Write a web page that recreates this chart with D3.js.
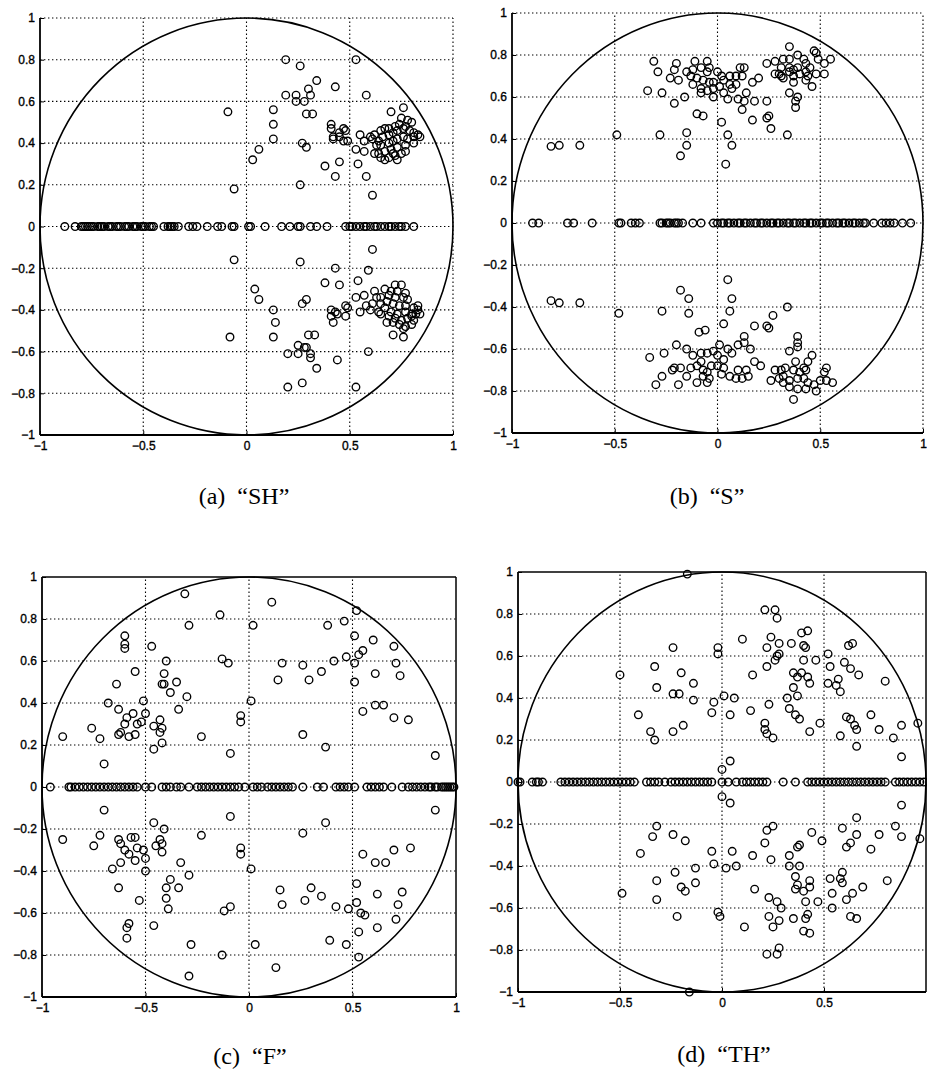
<!DOCTYPE html>
<html>
<head>
<meta charset="utf-8">
<script src="https://cdn.jsdelivr.net/npm/d3@7/dist/d3.min.js"></script>
<style>
  html, body { margin: 0; padding: 0; background: #fff; }
  svg { display: block; }
  .tick text { font-family: "Liberation Sans", Arial, sans-serif; font-size: 12px; fill: #000; stroke: #000; stroke-width: 0.35px; }
  .caption { font-family: "Liberation Serif", "DejaVu Serif", serif; font-size: 24px; fill: #000; white-space: pre; }
</style>
</head>
<body>
<div id="chart"></div>
<script>
// tick values
const xTicks = [-1, -0.5, 0, 0.5, 1];
const xTicksD = [-1, -0.5, 0, 0.5];
const yTicks = [-1, -0.8, -0.6, -0.4, -0.2, 0, 0.2, 0.4, 0.6, 0.8, 1];
const xGrid = [-0.5, 0, 0.5];
const yGrid = [-0.8, -0.6, -0.4, -0.2, 0, 0.2, 0.4, 0.6, 0.8];
const captions = ["(a)  \u201cSH\u201d", "(b)  \u201cS\u201d", "(c)  \u201cF\u201d", "(d)  \u201cTH\u201d"];

// (a) "SH" : real roots, upper and lower half plane roots
const shReal = [-0.88,-0.83,-0.80,-0.79,-0.78,-0.77,-0.76,-0.75,-0.74,-0.72,-0.71,-0.70,-0.69,-0.67,-0.66,-0.65,-0.63,-0.62,-0.61,-0.59,-0.58,-0.57,-0.55,-0.54,-0.53,-0.51,-0.50,-0.49,-0.47,-0.46,-0.45,-0.40,-0.38,-0.37,-0.36,-0.35,-0.33,-0.28,-0.26,-0.24,-0.19,-0.14,-0.12,-0.07,-0.06,0.01,0.02,0.09,0.17,0.21,0.25,0.26,0.31,0.34,0.39,0.48,0.50,0.51,0.53,0.55,0.57,0.58,0.60,0.62,0.63,0.65,0.67,0.69,0.70,0.72,0.74,0.75,0.77,0.81];
const shUpper = [[0.19,0.80],[0.26,0.77],[0.53,0.80],[0.34,0.70],[0.43,0.67],[0.19,0.63],[0.24,0.63],[0.30,0.66],[0.31,0.63],[0.24,0.60],[0.28,0.60],[0.58,0.63],[-0.09,0.55],[0.13,0.56],[0.29,0.54],[0.32,0.54],[0.13,0.49],[0.13,0.42],[0.27,0.40],[0.29,0.38],[0.06,0.37],[0.03,0.32],[0.41,0.49],[0.41,0.47],[0.42,0.43],[0.42,0.42],[0.45,0.45],[0.47,0.47],[0.48,0.46],[0.45,0.43],[0.49,0.41],[0.47,0.41],[0.55,0.44],[0.53,0.37],[0.57,0.36],[0.57,0.41],[0.60,0.43],[0.38,0.29],[0.45,0.31],[0.54,0.30],[0.43,0.24],[0.58,0.24],[0.61,0.15],[0.26,0.20],[-0.06,0.18],[0.62,0.35],
  [0.70,0.55],[0.76,0.57],[0.75,0.52],[0.78,0.51],[0.80,0.50],[0.77,0.48],[0.74,0.49],[0.72,0.48],[0.69,0.47],[0.67,0.47],[0.65,0.46],[0.62,0.44],[0.61,0.42],[0.64,0.41],[0.66,0.43],[0.69,0.44],[0.71,0.45],[0.73,0.46],[0.76,0.47],[0.79,0.46],[0.81,0.45],[0.83,0.44],[0.84,0.43],[0.81,0.43],[0.78,0.42],[0.76,0.43],[0.73,0.42],[0.71,0.41],[0.69,0.40],[0.65,0.39],[0.63,0.39],[0.64,0.35],[0.67,0.36],[0.70,0.37],[0.73,0.38],[0.77,0.39],[0.77,0.36],[0.75,0.35],[0.72,0.34],[0.69,0.33],[0.67,0.32],[0.65,0.33],[0.73,0.32],[0.71,0.35],[0.81,0.40]];
const shLower = [[-0.06,-0.16],[0.26,-0.17],[0.61,-0.11],[0.43,-0.20],[0.59,-0.21],[0.38,-0.27],[0.45,-0.28],[0.54,-0.26],[0.04,-0.30],[0.06,-0.35],[0.29,-0.35],[0.27,-0.37],[0.13,-0.40],[0.41,-0.40],[0.43,-0.41],[0.44,-0.42],[0.41,-0.43],[0.42,-0.46],[0.48,-0.38],[0.49,-0.39],[0.48,-0.43],[0.53,-0.34],[0.57,-0.33],[0.55,-0.41],[0.58,-0.38],[0.60,-0.40],[0.14,-0.46],[0.13,-0.53],[-0.08,-0.53],[0.30,-0.52],[0.33,-0.52],[0.25,-0.57],[0.28,-0.58],[0.29,-0.58],[0.20,-0.61],[0.25,-0.61],[0.31,-0.61],[0.31,-0.63],[0.34,-0.68],[0.44,-0.64],[0.59,-0.60],[0.20,-0.77],[0.27,-0.75],[0.53,-0.77],[0.71,-0.52],[0.76,-0.53],
  [0.72,-0.28],[0.75,-0.28],[0.67,-0.30],[0.62,-0.31],[0.70,-0.31],[0.73,-0.31],[0.77,-0.32],[0.63,-0.34],[0.65,-0.34],[0.69,-0.33],[0.72,-0.34],[0.76,-0.34],[0.78,-0.35],[0.61,-0.37],[0.65,-0.37],[0.68,-0.36],[0.71,-0.37],[0.74,-0.38],[0.77,-0.38],[0.81,-0.39],[0.83,-0.40],[0.84,-0.42],[0.64,-0.41],[0.67,-0.39],[0.70,-0.41],[0.73,-0.42],[0.77,-0.41],[0.80,-0.42],[0.82,-0.42],[0.65,-0.42],[0.69,-0.43],[0.72,-0.44],[0.75,-0.45],[0.78,-0.44],[0.81,-0.45],[0.68,-0.46],[0.71,-0.46],[0.74,-0.47],[0.77,-0.48],[0.80,-0.47],[0.76,-0.49],[0.80,-0.43],[0.83,-0.38]];

// (b) "S"
const sReal = [-0.90,-0.87,-0.73,-0.70,-0.61,-0.48,-0.47,-0.42,-0.40,-0.38,-0.28,-0.27,-0.25,-0.24,-0.23,-0.21,-0.20,-0.19,-0.17,-0.12,-0.08,-0.02,0.00,0.02,0.03,0.05,0.06,0.08,0.10,0.11,0.13,0.14,0.16,0.18,0.19,0.21,0.22,0.24,0.26,0.27,0.29,0.30,0.32,0.34,0.35,0.37,0.38,0.40,0.42,0.43,0.45,0.46,0.48,0.50,0.51,0.53,0.54,0.56,0.58,0.59,0.61,0.62,0.64,0.66,0.67,0.69,0.71,0.72,0.76,0.80,0.82,0.84,0.86,0.90,0.94];
const sUpper = [[-0.81,0.365],[-0.77,0.37],[-0.67,0.37],[-0.49,0.42],[-0.28,0.42],[-0.15,0.43],[-0.15,0.37],[-0.18,0.32],[-0.10,0.52],[-0.07,0.51],[0.02,0.48],[0.05,0.42],[0.07,0.37],[0.04,0.28],[0.17,0.49],[0.24,0.50],[0.25,0.51],[0.26,0.45],[0.34,0.42],[-0.34,0.63],[-0.27,0.62],[-0.31,0.77],[-0.29,0.72],[-0.23,0.69],[-0.20,0.76],[-0.21,0.73],[-0.19,0.68],[-0.16,0.60],[-0.21,0.57],
  [-0.11,0.77],[-0.05,0.77],[-0.12,0.73],[-0.08,0.74],[-0.04,0.74],[-0.15,0.72],[-0.13,0.70],[-0.10,0.69],[-0.07,0.68],[-0.04,0.67],[-0.12,0.66],[-0.08,0.64],[-0.05,0.63],[-0.02,0.64],[0.01,0.65],[0.00,0.72],[0.03,0.68],[0.06,0.66],[0.09,0.66],[0.03,0.62],[0.05,0.59],[-0.02,0.60],[0.02,0.70],[-0.02,0.67],[-0.05,0.72],[-0.08,0.62],[0.06,0.70],[0.07,0.64],[0.11,0.74],[0.12,0.70],[0.13,0.74],[0.10,0.59],[0.13,0.58],[0.12,0.54],[0.14,0.62],[0.17,0.67],[0.20,0.69],[0.18,0.58],[0.24,0.58],[0.09,0.70],
  [0.35,0.84],[0.47,0.82],[0.48,0.81],[0.24,0.76],[0.28,0.77],[0.32,0.78],[0.35,0.78],[0.39,0.80],[0.42,0.78],[0.43,0.76],[0.45,0.74],[0.39,0.74],[0.37,0.73],[0.35,0.74],[0.31,0.74],[0.28,0.71],[0.31,0.70],[0.35,0.72],[0.37,0.70],[0.40,0.71],[0.43,0.72],[0.44,0.70],[0.43,0.68],[0.46,0.65],[0.48,0.71],[0.52,0.71],[0.52,0.76],[0.55,0.78],[0.49,0.78],[0.37,0.67],[0.35,0.62],[0.39,0.60],[0.38,0.58],[0.38,0.55],[0.30,0.71],[0.32,0.69]];
const sLower = [[-0.81,-0.37],[-0.77,-0.38],[-0.67,-0.38],[-0.48,-0.43],[-0.27,-0.42],[-0.18,-0.32],[-0.14,-0.36],[-0.14,-0.43],[0.05,-0.27],[0.07,-0.36],[0.06,-0.42],[0.03,-0.48],[-0.09,-0.52],[-0.06,-0.51],[0.18,-0.49],[0.24,-0.49],[0.25,-0.50],[0.27,-0.44],[0.34,-0.40],[-0.33,-0.64],[-0.26,-0.62],[-0.30,-0.77],[-0.27,-0.73],[-0.22,-0.70],[-0.19,-0.77],[-0.20,-0.58],[-0.15,-0.60],
  [-0.12,-0.63],[-0.08,-0.62],[-0.05,-0.62],[-0.02,-0.61],[0.01,-0.58],[0.05,-0.60],[0.07,-0.62],[0.10,-0.58],[0.13,-0.57],[0.13,-0.54],[0.16,-0.60],[0.18,-0.66],[0.21,-0.68],[0.14,-0.70],[0.10,-0.70],[0.09,-0.74],[0.12,-0.74],[0.15,-0.73],[0.06,-0.73],[0.02,-0.72],[0.03,-0.69],[0.00,-0.68],[-0.03,-0.68],[-0.05,-0.71],[-0.04,-0.74],[-0.07,-0.70],[-0.10,-0.68],[-0.13,-0.69],[-0.15,-0.73],[-0.10,-0.76],[-0.05,-0.76],[-0.08,-0.66],[-0.07,-0.73],[-0.18,-0.69],[-0.21,-0.69],[0.00,-0.63],[0.03,-0.65],
  [0.39,-0.54],[0.39,-0.57],[0.39,-0.59],[0.35,-0.61],[0.38,-0.66],[0.46,-0.63],[0.44,-0.66],[0.42,-0.69],[0.43,-0.70],[0.40,-0.71],[0.37,-0.70],[0.33,-0.69],[0.31,-0.70],[0.28,-0.70],[0.26,-0.75],[0.30,-0.74],[0.32,-0.76],[0.35,-0.75],[0.39,-0.74],[0.42,-0.74],[0.44,-0.76],[0.47,-0.77],[0.50,-0.75],[0.48,-0.80],[0.52,-0.71],[0.53,-0.69],[0.53,-0.75],[0.56,-0.76],[0.37,-0.84],[0.39,-0.79],[0.43,-0.79],[0.32,-0.73],[0.35,-0.78]];

// (c) "F"
const fReal = [-0.96,-0.87,-0.86,-0.84,-0.82,-0.80,-0.78,-0.76,-0.74,-0.72,-0.70,-0.68,-0.66,-0.64,-0.62,-0.60,-0.58,-0.56,-0.54,-0.50,-0.47,-0.42,-0.40,-0.38,-0.35,-0.33,-0.29,-0.25,-0.23,-0.21,-0.19,-0.17,-0.15,-0.13,-0.11,-0.09,-0.07,-0.05,-0.02,0.02,0.04,0.06,0.09,0.11,0.13,0.15,0.17,0.19,0.21,0.26,0.33,0.36,0.42,0.44,0.46,0.48,0.51,0.57,0.59,0.61,0.63,0.65,0.69,0.74,0.77,0.79,0.81,0.83,0.85,0.87,0.88,0.90,0.91,0.93,0.94,0.95,0.96,0.97,0.98,0.99];
const fUpper = [[-0.31,0.92],[0.11,0.88],[-0.14,0.82],[-0.29,0.77],[0.02,0.77],[0.52,0.84],[0.46,0.79],[0.38,0.77],[-0.60,0.72],[-0.60,0.68],[-0.60,0.66],[-0.47,0.67],[-0.13,0.61],[-0.10,0.59],[0.51,0.72],[0.60,0.70],[0.70,0.67],[0.55,0.65],[0.53,0.63],[0.47,0.62],[0.41,0.60],[0.51,0.59],[0.71,0.59],[0.73,0.53],[0.61,0.54],[0.35,0.55],[0.26,0.58],[0.16,0.59],[0.14,0.51],[0.29,0.51],[0.51,0.50],[-0.55,0.55],[-0.40,0.60],[-0.64,0.49],[-0.41,0.54],[-0.42,0.49],[-0.41,0.49],[-0.35,0.50],[-0.38,0.45],[-0.30,0.43],[-0.51,0.41],[-0.68,0.40],[-0.34,0.37],[-0.63,0.37],[-0.56,0.35],[-0.59,0.33],[-0.50,0.35],[-0.52,0.31],[-0.60,0.30],[-0.54,0.30],[-0.62,0.26],[-0.63,0.25],[-0.58,0.24],[-0.55,0.25],[-0.46,0.29],[-0.43,0.32],[-0.42,0.28],[-0.43,0.26],[-0.42,0.21],[-0.46,0.18],[-0.76,0.28],[-0.72,0.23],[-0.70,0.11],[-0.90,0.24],[-0.23,0.24],[-0.09,0.16],[-0.04,0.34],[-0.04,0.31],[0.01,0.41],[0.55,0.36],[0.61,0.39],[0.65,0.39],[0.70,0.33],[0.77,0.32],[0.26,0.25],[0.37,0.19],[0.90,0.15]];
const fLower = [[-0.70,-0.11],[-0.09,-0.14],[0.90,-0.11],[0.37,-0.17],[-0.46,-0.17],[-0.41,-0.20],[0.26,-0.22],[-0.23,-0.23],[-0.90,-0.25],[-0.72,-0.23],[-0.75,-0.28],[-0.63,-0.25],[-0.62,-0.27],[-0.60,-0.30],[-0.58,-0.32],[-0.57,-0.24],[-0.55,-0.24],[-0.54,-0.29],[-0.55,-0.35],[-0.51,-0.30],[-0.50,-0.34],[-0.50,-0.40],[-0.45,-0.28],[-0.43,-0.25],[-0.42,-0.27],[-0.42,-0.31],[-0.62,-0.36],[-0.66,-0.39],[-0.63,-0.48],[-0.33,-0.36],[-0.29,-0.42],[-0.38,-0.44],[-0.40,-0.48],[-0.40,-0.53],[-0.34,-0.48],[-0.53,-0.54],[-0.39,-0.58],[-0.58,-0.65],[-0.59,-0.67],[-0.59,-0.72],[-0.46,-0.66],[-0.28,-0.75],[-0.29,-0.90],[-0.12,-0.59],[-0.09,-0.57],[-0.13,-0.80],[-0.04,-0.29],[-0.04,-0.32],[0.01,-0.39],[0.03,-0.75],[0.13,-0.86],[0.15,-0.49],[0.16,-0.56],[0.27,-0.54],[0.30,-0.48],[0.35,-0.52],[0.42,-0.57],[0.48,-0.58],[0.39,-0.73],[0.47,-0.75],[0.55,-0.32],[0.61,-0.36],[0.66,-0.36],[0.70,-0.30],[0.78,-0.29],[0.52,-0.46],[0.52,-0.55],[0.54,-0.60],[0.56,-0.61],[0.62,-0.51],[0.74,-0.50],[0.72,-0.56],[0.71,-0.63],[0.62,-0.67],[0.53,-0.69],[0.53,-0.81]];

// (d) "TH"
const thReal = [-1.00,-0.99,-0.93,-0.91,-0.90,-0.88,-0.79,-0.77,-0.75,-0.73,-0.71,-0.69,-0.67,-0.65,-0.63,-0.61,-0.59,-0.57,-0.55,-0.53,-0.51,-0.49,-0.47,-0.45,-0.43,-0.37,-0.35,-0.33,-0.31,-0.28,-0.25,-0.23,-0.21,-0.19,-0.17,-0.15,-0.13,-0.11,-0.09,-0.07,-0.05,0.00,0.03,0.07,0.10,0.12,0.14,0.16,0.18,0.20,0.22,0.30,0.36,0.42,0.44,0.46,0.48,0.50,0.52,0.54,0.56,0.58,0.60,0.62,0.64,0.66,0.68,0.70,0.72,0.74,0.76,0.78,0.80,0.85,0.87,0.89,0.91,0.93,0.95,0.97,0.99];
const thUpper = [[-0.17,0.99],[0.21,0.82],[0.26,0.82],[0.27,0.78],[0.10,0.68],[0.24,0.69],[0.22,0.64],[0.28,0.66],[0.28,0.61],[0.27,0.60],[0.26,0.58],[0.22,0.55],[0.34,0.66],[0.39,0.71],[0.42,0.72],[0.40,0.65],[0.41,0.64],[0.40,0.58],[0.46,0.58],[0.35,0.52],[0.37,0.50],[0.39,0.52],[0.42,0.50],[0.43,0.47],[0.35,0.45],[0.32,0.40],[0.37,0.41],[0.33,0.35],[0.36,0.32],[0.38,0.30],[0.43,0.24],[0.48,0.28],[0.52,0.61],[0.53,0.55],[0.52,0.47],[0.56,0.46],[0.57,0.49],[0.58,0.43],[0.60,0.57],[0.62,0.65],[0.64,0.66],[0.63,0.54],[0.67,0.51],[0.58,0.22],[0.61,0.31],[0.63,0.30],[0.65,0.27],[0.66,0.25],[0.66,0.17],[0.73,0.32],[0.77,0.25],[0.80,0.48],[0.84,0.21],[0.88,0.27],[0.88,0.12],[0.96,0.28],[0.15,0.51],[0.14,0.34],[0.21,0.28],[0.21,0.25],[0.22,0.23],[0.25,0.21],[0.23,0.37],[-0.02,0.64],[-0.02,0.61],[0.01,0.41],[0.06,0.40],[0.04,0.32],[-0.05,0.33],[-0.04,0.38],[0.04,0.10],[0.00,0.06],[-0.14,0.47],[-0.14,0.39],[-0.21,0.42],[-0.20,0.52],[-0.24,0.64],[-0.24,0.42],[-0.19,0.27],[-0.24,0.24],[-0.33,0.55],[-0.32,0.45],[-0.35,0.24],[-0.33,0.20],[-0.41,0.32],[-0.50,0.51]];
const thLower = [[0.00,-0.07],[0.04,-0.10],[0.88,-0.11],[0.66,-0.17],[-0.32,-0.21],[-0.34,-0.26],[0.25,-0.21],[0.22,-0.23],[0.21,-0.29],[-0.24,-0.25],[-0.18,-0.28],[-0.40,-0.34],[-0.05,-0.33],[-0.04,-0.39],[0.05,-0.33],[0.02,-0.41],[0.07,-0.40],[0.15,-0.35],[0.24,-0.37],[0.44,-0.24],[0.49,-0.28],[0.38,-0.30],[0.37,-0.31],[0.33,-0.35],[0.33,-0.40],[0.38,-0.40],[0.36,-0.45],[0.37,-0.49],[0.36,-0.51],[0.43,-0.47],[0.43,-0.50],[0.40,-0.52],[0.41,-0.57],[0.47,-0.57],[0.41,-0.65],[0.42,-0.63],[0.40,-0.71],[0.43,-0.72],[0.53,-0.46],[0.54,-0.53],[0.54,-0.60],[0.58,-0.46],[0.59,-0.43],[0.59,-0.48],[0.59,-0.22],[0.61,-0.31],[0.63,-0.29],[0.66,-0.25],[0.61,-0.56],[0.64,-0.53],[0.69,-0.50],[0.63,-0.64],[0.66,-0.65],[0.73,-0.32],[0.77,-0.25],[0.81,-0.47],[0.85,-0.21],[0.88,-0.26],[0.97,-0.27],[0.16,-0.51],[0.11,-0.69],[0.23,-0.55],[0.27,-0.57],[0.29,-0.60],[0.28,-0.66],[0.23,-0.64],[0.25,-0.69],[0.22,-0.82],[0.27,-0.82],[0.28,-0.79],[0.35,-0.65],[-0.02,-0.62],[-0.01,-0.64],[-0.13,-0.41],[-0.13,-0.48],[-0.20,-0.50],[-0.18,-0.52],[-0.23,-0.43],[-0.22,-0.64],[-0.32,-0.47],[-0.32,-0.56],[-0.49,-0.53],[-0.16,-1.00]];

const W = 927, H = 1073;
const svg = d3.select("#chart").append("svg")
  .attr("width", W).attr("height", H)
  .attr("viewBox", `0 0 ${W} ${H}`);

const fmt = v => {
  if (v === 0) return "0";
  const s = String(+Math.abs(v).toFixed(1));
  return (v < 0 ? "\u2212" : "") + s;
};

// one entry per panel: plot box in pixels, data, caption spot
const panels = [
  {real: shReal, upper: shUpper, lower: shLower, l: 40, r: 453, t: 18, b: 435, dottedBox: true, xt: xTicks, cap: captions[0], cx: 244, cy: 504},
  {real: sReal, upper: sUpper, lower: sLower, l: 512, r: 923, t: 13, b: 433, dottedBox: true, xt: xTicks, cap: captions[1], cx: 707, cy: 504},
  {real: fReal, upper: fUpper, lower: fLower, l: 42, r: 456, t: 577, b: 997, dottedBox: false, xt: xTicks, cap: captions[2], cx: 250, cy: 1064},
  {real: thReal, upper: thUpper, lower: thLower, l: 518, r: 926, t: 572, b: 992, dottedBox: false, xt: xTicksD, cap: captions[3], cx: 724, cy: 1062}
];

panels.forEach(p => {
  const x = d3.scaleLinear().domain([-1, 1]).range([p.l, p.r]);
  const y = d3.scaleLinear().domain([-1, 1]).range([p.b, p.t]);
  const g = svg.append("g");

  // dotted grid
  const grid = g.append("g")
    .attr("stroke", "#000").attr("stroke-width", 1.1)
    .attr("stroke-dasharray", "1.4,2.6");
  const vx = p.dottedBox ? xGrid.concat([1]) : xGrid;
  const hy = p.dottedBox ? yGrid.concat([1]) : yGrid;
  grid.selectAll(".gv").data(vx).join("line")
    .attr("x1", d => x(d)).attr("x2", d => x(d))
    .attr("y1", y(-1)).attr("y2", y(1));
  grid.selectAll(".gh").data(hy).join("line")
    .attr("x1", x(-1)).attr("x2", x(1))
    .attr("y1", d => y(d)).attr("y2", d => y(d));

  // axes (inward ticks like matlab)
  const xa = g.append("g").attr("transform", `translate(0,${y(-1)})`)
    .call(d3.axisBottom(x).tickValues(p.xt).tickFormat(fmt).tickSizeInner(-4).tickSizeOuter(0).tickPadding(6));
  const ya = g.append("g").attr("transform", `translate(${x(-1)},0)`)
    .call(d3.axisLeft(y).tickValues(yTicks).tickFormat(fmt).tickSizeInner(-4).tickSizeOuter(0).tickPadding(5));
  [xa, ya].forEach(a => {
    a.select(".domain").remove();
    a.selectAll(".tick line").attr("stroke", "#000").attr("stroke-width", 1);
  });

  // solid box edges
  const box = g.append("g").attr("stroke", "#000").attr("fill", "none");
  box.append("line").attr("x1", x(-1)).attr("x2", x(-1)).attr("y1", y(-1)).attr("y2", y(1)).attr("stroke-width", 1.8);
  box.append("line").attr("x1", x(-1)).attr("x2", x(1)).attr("y1", y(-1)).attr("y2", y(-1)).attr("stroke-width", 1.8);
  if (!p.dottedBox) {
    box.append("line").attr("x1", x(-1)).attr("x2", x(1)).attr("y1", y(1)).attr("y2", y(1)).attr("stroke-width", 1.5);
    box.append("line").attr("x1", x(1)).attr("x2", x(1)).attr("y1", y(-1)).attr("y2", y(1)).attr("stroke-width", 1.5);
  }

  // unit circle
  g.append("ellipse")
    .attr("cx", x(0)).attr("cy", y(0))
    .attr("rx", x(1) - x(0)).attr("ry", y(0) - y(1))
    .attr("fill", "none").attr("stroke", "#000").attr("stroke-width", 1.6);

  // roots
  const pts = p.real.map(v => [v, 0]).concat(p.upper, p.lower);
  g.append("g").selectAll("circle").data(pts).join("circle")
    .attr("cx", d => x(d[0])).attr("cy", d => y(d[1]))
    .attr("r", 3.8)
    .attr("fill", "none").attr("stroke", "#000").attr("stroke-width", 1.35);

  // caption
  svg.append("text").attr("class", "caption")
    .attr("x", p.cx).attr("y", p.cy)
    .attr("text-anchor", "middle")
    .text(p.cap);
});
</script>
</body>
</html>
